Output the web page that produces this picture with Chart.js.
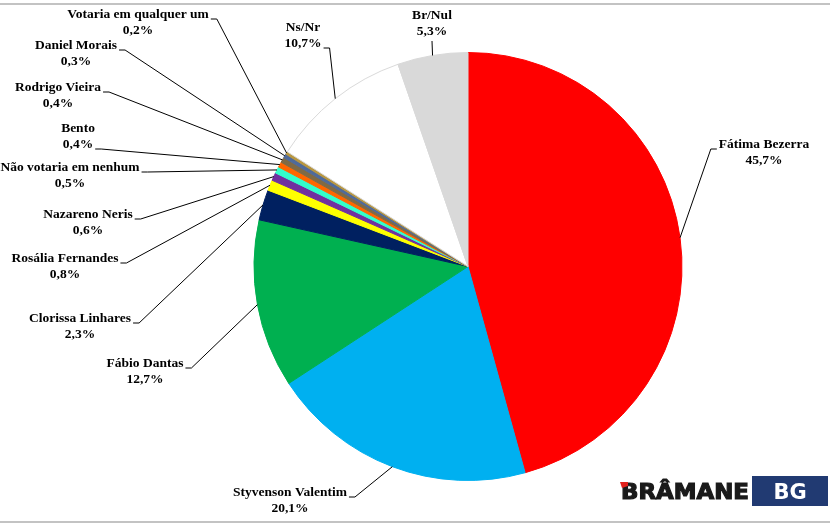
<!DOCTYPE html>
<html>
<head>
<meta charset="utf-8">
<script src="https://cdn.jsdelivr.net/npm/chart.js@4.4.1/dist/chart.umd.min.js"></script>
<style>
  html, body { margin: 0; padding: 0; background: #ffffff; }
  #wrap { position: relative; width: 830px; height: 532px; }
  canvas { display: block; }
</style>
</head>
<body>
<div id="wrap"><canvas id="c" width="830" height="532"></canvas></div>
<script>
// ---- data ----
const categories = [
  "Fátima Bezerra", "Styvenson Valentim", "Fábio Dantas", "Clorissa Linhares",
  "Rosália Fernandes", "Nazareno Neris", "Não votaria em nenhum", "Bento",
  "Rodrigo Vieira", "Daniel Morais", "Votaria em qualquer um", "Ns/Nr", "Br/Nul"
];
const values = [45.7, 20.1, 12.7, 2.3, 0.8, 0.6, 0.5, 0.4, 0.4, 0.3, 0.2, 10.7, 5.3];
const valueLabels = ["45,7%", "20,1%", "12,7%", "2,3%", "0,8%", "0,6%", "0,5%", "0,4%", "0,4%", "0,3%", "0,2%", "10,7%", "5,3%"];

// ---- styles ----
const colors = [
  "#FF0000", "#00B0F0", "#00B050", "#002060", "#FFFF00", "#7030A0", "#33FFCC",
  "#FF6600", "#7F6A45", "#4F6A9A", "#B8963E", "#FFFFFF", "#D9D9D9"
];
const borderColors = colors.map((c, i) => i === 11 ? "#DADADA" : c);

// label placement: center x of text block, y of first line, side the tick leaves from, which line attaches
const labelLayout = [
  { x: 764, y: 145, side: "left", line: 1 },   // Fátima
  { x: 290, y: 493, side: "right", line: 1 },  // Styvenson
  { x: 145, y: 364, side: "right", line: 1 },  // Fábio
  { x: 80,  y: 319, side: "right", line: 1 },  // Clorissa
  { x: 65,  y: 259, side: "right", line: 1 },  // Rosália
  { x: 88,  y: 215, side: "right", line: 1 },  // Nazareno
  { x: 70,  y: 168, side: "right", line: 1 },  // Não votaria
  { x: 78,  y: 129, side: "right", line: 2 },  // Bento
  { x: 58,  y: 88,  side: "right", line: 1 },  // Rodrigo
  { x: 76,  y: 46,  side: "right", line: 1 },  // Daniel
  { x: 138, y: 15,  side: "right", line: 1 },  // Votaria
  { x: 303, y: 28,  side: "right", line: 2 },  // Ns/Nr
  { x: 432, y: 16,  side: "bottom", line: 2 }  // Br/Nul
];

const FONT = "bold 13.5px 'Liberation Serif', 'Times New Roman', serif";
const LINE_GAP = 16;

const framePlugin = {
  id: "frame",
  beforeDraw(chart) {
    const ctx = chart.ctx;
    ctx.save();
    ctx.fillStyle = "#ffffff";
    ctx.fillRect(0, 0, chart.width, chart.height);
    ctx.fillStyle = "#C3C3C3";
    ctx.fillRect(0, 3, chart.width, 2);
    ctx.fillRect(0, 521, chart.width, 2);
    ctx.restore();
  }
};

const labelPlugin = {
  id: "outLabels",
  afterDatasetsDraw(chart) {
    const ctx = chart.ctx;
    const meta = chart.getDatasetMeta(0);
    ctx.save();
    ctx.font = FONT;
    ctx.textAlign = "center";
    ctx.textBaseline = "middle";
    ctx.strokeStyle = "#000000";
    ctx.lineWidth = 1;
    meta.data.forEach((arc, i) => {
      const p = arc.getProps(["x", "y", "startAngle", "endAngle", "outerRadius"], true);
      const mid = (p.startAngle + p.endAngle) / 2;
      const ex = p.x + Math.cos(mid) * p.outerRadius;
      const ey = p.y + Math.sin(mid) * p.outerRadius;
      const L = labelLayout[i];
      const l1 = categories[i], l2 = valueLabels[i];
      ctx.fillStyle = "#000000";
      ctx.fillText(l1, L.x, L.y);
      ctx.fillText(l2, L.x, L.y + LINE_GAP);
      const lineY = L.line === 1 ? L.y : L.y + LINE_GAP;
      const w = ctx.measureText(L.line === 1 ? l1 : l2).width;
      ctx.beginPath();
      if (L.side === "right") {
        const sx = L.x + w / 2 + 2, sy = lineY + 4;
        ctx.moveTo(sx, sy);
        ctx.lineTo(sx + 6, sy);
        ctx.lineTo(ex, ey);
      } else if (L.side === "left") {
        const sx = L.x - w / 2 - 2, sy = lineY + 4;
        ctx.moveTo(sx, sy);
        ctx.lineTo(sx - 6, sy);
        ctx.lineTo(ex, ey);
      } else {
        const sx = L.x, sy = lineY + 9;
        ctx.moveTo(sx, sy);
        ctx.lineTo(ex, ey);
      }
      ctx.stroke();
    });
    ctx.restore();
  }
};

const logoPlugin = {
  id: "logo",
  afterDraw(chart) {
    const ctx = chart.ctx;
    ctx.save();
    // wordmark
    ctx.font = "bold 22px 'DejaVu Sans', sans-serif";
    ctx.textBaseline = "alphabetic";
    ctx.textAlign = "left";
    const word = "BRÂMANE";
    const w = ctx.measureText(word).width;
    ctx.save();
    ctx.translate(621, 499);
    ctx.scale(128 / w, 1);
    ctx.fillStyle = "#1A1A1A";
    ctx.strokeStyle = "#1A1A1A";
    ctx.lineWidth = 1.2;
    ctx.fillText(word, 0, 0);
    ctx.strokeText(word, 0, 0);
    ctx.restore();
    // red accent on B
    ctx.fillStyle = "#E0201B";
    ctx.beginPath();
    ctx.moveTo(620, 482);
    ctx.lineTo(628, 482);
    ctx.lineTo(628, 486);
    ctx.lineTo(622, 488);
    ctx.closePath();
    ctx.fill();
    // box
    ctx.fillStyle = "#213A72";
    ctx.fillRect(752, 476, 76, 30);
    ctx.fillStyle = "#FFFFFF";
    ctx.font = "bold 21px 'DejaVu Sans', sans-serif";
    ctx.textAlign = "center";
    ctx.fillText("BG", 790, 499);
    ctx.restore();
  }
};

new Chart(document.getElementById("c"), {
  type: "pie",
  data: {
    labels: categories,
    datasets: [{
      data: values,
      backgroundColor: colors,
      borderColor: borderColors,
      borderWidth: 1
    }]
  },
  options: {
    responsive: false,
    animation: false,
    layout: { padding: { left: 253, right: 147, top: 52, bottom: 51 } },
    plugins: {
      legend: { display: false },
      tooltip: { enabled: false },
      title: { display: false }
    }
  },
  plugins: [framePlugin, labelPlugin, logoPlugin]
});
</script>
</body>
</html>
